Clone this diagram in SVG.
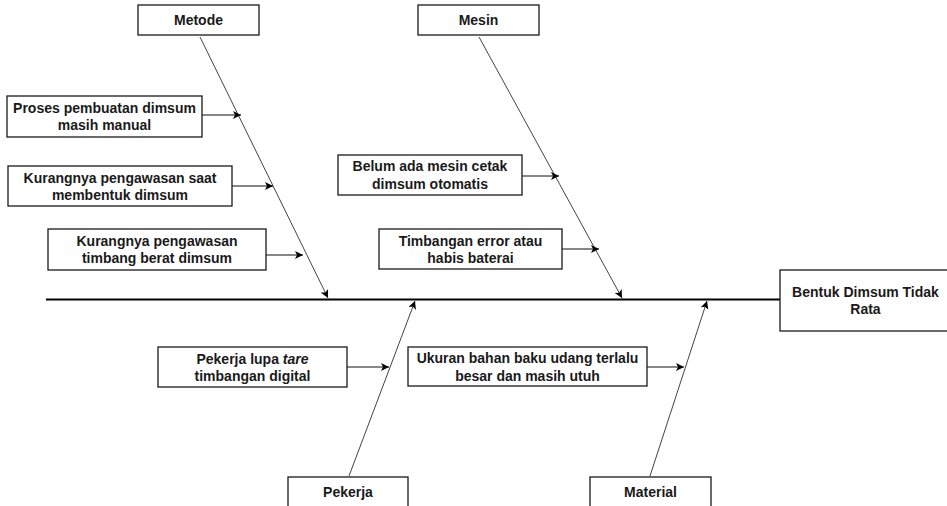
<svg xmlns="http://www.w3.org/2000/svg" width="947" height="506" viewBox="0 0 947 506">
<defs>
<style>
.box{fill:#fff;stroke:#1a1a1a;stroke-width:1.3}
.t{font-family:"Liberation Sans",Arial,sans-serif;font-weight:bold;font-size:14px;fill:#1a1a1a;text-anchor:middle}
.bone{stroke:#444;stroke-width:1;fill:none}
.sub{stroke:#111;stroke-width:1.2;fill:none}
.spine{stroke:#000;stroke-width:2.2;fill:none}
</style>
<marker id="ah" viewBox="0 0 10 10" refX="10" refY="5" markerWidth="10" markerHeight="8" markerUnits="userSpaceOnUse" orient="auto">
<path d="M0,0 L10,5 L0,10 L2.5,5 Z" fill="#000"/>
</marker>
</defs>
<rect width="947" height="506" fill="#fff"/>
<g id="connectors">
<line class="spine" x1="46" y1="299.5" x2="780" y2="299.5"/>
<line class="bone" x1="200" y1="37" x2="328" y2="298" marker-end="url(#ah)"/>
<line class="bone" x1="479" y1="37" x2="622" y2="298" marker-end="url(#ah)"/>
<line class="bone" x1="349" y1="476" x2="415" y2="301" marker-end="url(#ah)"/>
<line class="bone" x1="650" y1="476" x2="707" y2="301" marker-end="url(#ah)"/>
<line class="sub" x1="202" y1="115" x2="241" y2="115" marker-end="url(#ah)"/>
<line class="sub" x1="232" y1="186" x2="273" y2="186" marker-end="url(#ah)"/>
<line class="sub" x1="266" y1="255" x2="303" y2="255" marker-end="url(#ah)"/>
<line class="sub" x1="522" y1="176" x2="559" y2="176" marker-end="url(#ah)"/>
<line class="sub" x1="562" y1="249" x2="599" y2="249" marker-end="url(#ah)"/>
<line class="sub" x1="347" y1="367" x2="389" y2="367" marker-end="url(#ah)"/>
<line class="sub" x1="647" y1="367" x2="684" y2="367" marker-end="url(#ah)"/>
</g>
<g id="metode">
<rect class="box" x="138" y="5" width="121" height="30"/>
<text class="t" x="198.5" y="25">Metode</text>
</g>
<g id="mesin">
<rect class="box" x="418" y="5" width="121" height="30"/>
<text class="t" x="478.5" y="25">Mesin</text>
</g>
<g id="pekerja">
<rect class="box" x="288" y="477" width="120" height="35"/>
<text class="t" x="348" y="497">Pekerja</text>
</g>
<g id="material">
<rect class="box" x="590" y="477" width="121" height="35"/>
<text class="t" x="650.5" y="497">Material</text>
</g>
<g id="effect">
<rect class="box" x="780" y="270" width="170" height="61"/>
<text class="t" x="865.5" y="297">Bentuk Dimsum Tidak</text>
<text class="t" x="865.5" y="314">Rata</text>
</g>
<g id="proses">
<rect class="box" x="7" y="96" width="195" height="41"/>
<text class="t" x="104.5" y="113">Proses pembuatan dimsum</text>
<text class="t" x="104.5" y="130">masih manual</text>
</g>
<g id="kurang-saat">
<rect class="box" x="8" y="166" width="224" height="40"/>
<text class="t" x="120" y="183">Kurangnya pengawasan saat</text>
<text class="t" x="120" y="200">membentuk dimsum</text>
</g>
<g id="kurang-timbang">
<rect class="box" x="48" y="229" width="218" height="41"/>
<text class="t" x="157" y="246">Kurangnya pengawasan</text>
<text class="t" x="157" y="263">timbang berat dimsum</text>
</g>
<g id="belum">
<rect class="box" x="338" y="155" width="184" height="40"/>
<text class="t" x="430" y="171">Belum ada mesin cetak</text>
<text class="t" x="430" y="189">dimsum otomatis</text>
</g>
<g id="timbangan">
<rect class="box" x="379" y="229" width="183" height="40"/>
<text class="t" x="470.5" y="246">Timbangan error atau</text>
<text class="t" x="470.5" y="263">habis baterai</text>
</g>
<g id="pekerja-lupa">
<rect class="box" x="158" y="347" width="189" height="40"/>
<text class="t" x="252.5" y="364">Pekerja lupa <tspan font-style="italic">tare</tspan></text>
<text class="t" x="252.5" y="381">timbangan digital</text>
</g>
<g id="ukuran">
<rect class="box" x="408" y="347" width="239" height="39"/>
<text class="t" x="527.5" y="363">Ukuran bahan baku udang terlalu</text>
<text class="t" x="527.5" y="381">besar dan masih utuh</text>
</g>
</svg>
